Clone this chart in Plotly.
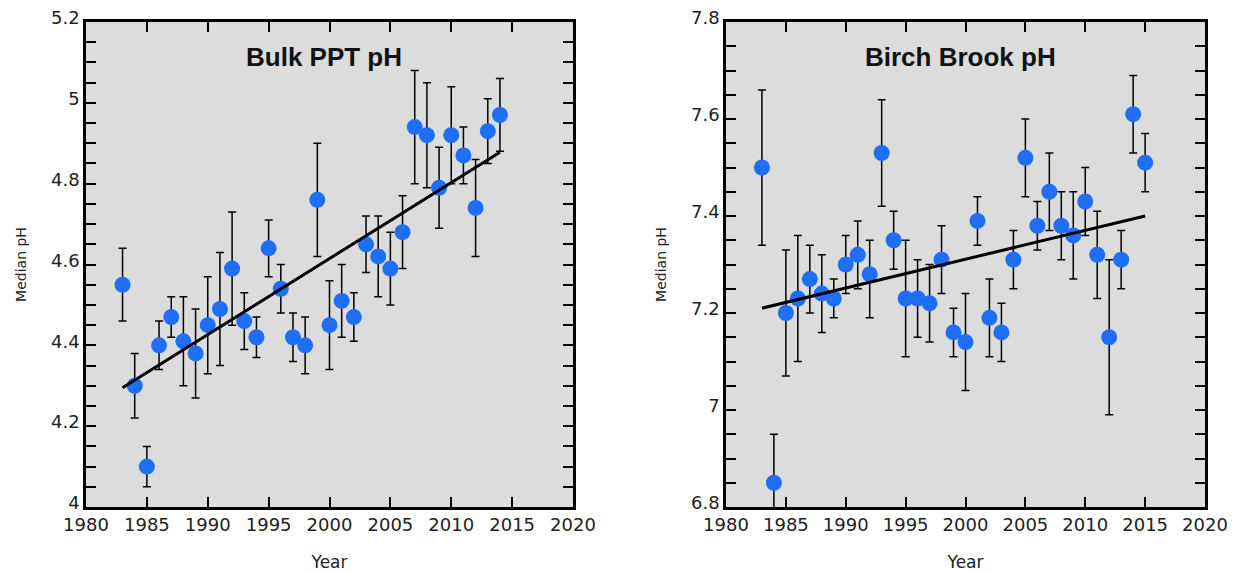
import numpy as np
import plotly.graph_objects as go

# ---- Data: Bulk PPT pH ----
ppt_years = list(range(1983, 2015))
ppt_ph = [4.55, 4.30, 4.10, 4.40, 4.47, 4.41, 4.38, 4.45, 4.49, 4.59,
          4.46, 4.42, 4.64, 4.54, 4.42, 4.40, 4.76, 4.45, 4.51, 4.47,
          4.65, 4.62, 4.59, 4.68, 4.94, 4.92, 4.79, 4.92, 4.87, 4.74,
          4.93, 4.97]
ppt_hi = [4.64, 4.38, 4.15, 4.46, 4.52, 4.52, 4.49, 4.57, 4.63, 4.73,
          4.53, 4.47, 4.71, 4.60, 4.48, 4.47, 4.90, 4.56, 4.60, 4.53,
          4.72, 4.72, 4.68, 4.77, 5.08, 5.05, 4.89, 5.04, 4.94, 4.86,
          5.01, 5.06]
ppt_lo = [4.46, 4.22, 4.05, 4.34, 4.42, 4.30, 4.27, 4.33, 4.35, 4.45,
          4.39, 4.37, 4.57, 4.48, 4.36, 4.33, 4.62, 4.34, 4.42, 4.41,
          4.58, 4.52, 4.50, 4.59, 4.80, 4.79, 4.69, 4.80, 4.80, 4.62,
          4.85, 4.88]
ppt_trend_x = [1983, 2014]
ppt_trend_y = [4.295, 4.878]

# ---- Data: Birch Brook pH ----
bb_years = list(range(1983, 2016))
bb_ph = [7.50, 6.85, 7.20, 7.23, 7.27, 7.24, 7.23, 7.30, 7.32, 7.28,
         7.53, 7.35, 7.23, 7.23, 7.22, 7.31, 7.16, 7.14, 7.39, 7.19,
         7.16, 7.31, 7.52, 7.38, 7.45, 7.38, 7.36, 7.43, 7.32, 7.15,
         7.31, 7.61, 7.51]
bb_hi = [7.66, 6.95, 7.33, 7.36, 7.34, 7.32, 7.27, 7.36, 7.39, 7.35,
         7.64, 7.41, 7.35, 7.31, 7.30, 7.38, 7.21, 7.24, 7.44, 7.27,
         7.22, 7.37, 7.60, 7.43, 7.53, 7.45, 7.45, 7.50, 7.41, 7.31,
         7.37, 7.69, 7.57]
bb_lo = [7.34, 6.78, 7.07, 7.10, 7.20, 7.16, 7.19, 7.24, 7.25, 7.19,
         7.42, 7.29, 7.11, 7.15, 7.14, 7.24, 7.11, 7.04, 7.34, 7.11,
         7.10, 7.25, 7.44, 7.33, 7.37, 7.31, 7.27, 7.36, 7.23, 6.99,
         7.25, 7.53, 7.45]
bb_trend_x = [1983, 2015]
bb_trend_y = [7.21, 7.40]

x_ticks = [1980, 1985, 1990, 1995, 2000, 2005, 2010, 2015, 2020]

BLUE = "rgb(30,110,246)"
BG = "rgb(220,220,220)"
FONT = "DejaVu Sans"

fig = go.Figure()


def add_panel(years, ph, hi, lo, tx, ty, xa, ya):
    fig.add_trace(go.Scatter(
        x=years, y=ph, mode="markers", xaxis=xa, yaxis=ya,
        marker=dict(size=16, color=BLUE, line=dict(width=0)),
        error_y=dict(type="data", symmetric=False,
                     array=[h - p for h, p in zip(hi, ph)],
                     arrayminus=[p - l for p, l in zip(ph, lo)],
                     color="black", thickness=1.5, width=4),
        showlegend=False))
    fig.add_trace(go.Scatter(
        x=tx, y=ty, mode="lines", xaxis=xa, yaxis=ya,
        line=dict(color="black", width=3), showlegend=False))


add_panel(ppt_years, ppt_ph, ppt_hi, ppt_lo, ppt_trend_x, ppt_trend_y, "x", "y")
add_panel(bb_years, bb_ph, bb_hi, bb_lo, bb_trend_x, bb_trend_y, "x2", "y2")


def yticks(lo, hi):
    n = int(round((hi - lo) / 0.05))
    vals = [round(lo + i * 0.05, 2) for i in range(n + 1)]
    txt = []
    for v in vals:
        if abs(round(v * 5) - v * 5) < 1e-6:
            s = f"{v:.1f}"
            if s.endswith(".0"):
                s = s[:-2]
            txt.append(s)
        else:
            txt.append("")
    return vals, txt


W, H = 1243, 573
common_x = dict(
    range=[1980, 2020], tickvals=x_ticks, ticktext=[str(v) for v in x_ticks],
    showline=True, linecolor="black", linewidth=2.5, mirror="ticks",
    ticks="inside", ticklen=10, tickwidth=1.5, tickcolor="black",
    showgrid=False, zeroline=False, automargin=False,
    tickfont=dict(family=FONT, size=18, color="#222"),
    title=dict(text="Year", font=dict(family=FONT, size=17, color="#222"), standoff=22),
)
common_y = dict(
    showline=True, linecolor="black", linewidth=2.5, mirror="ticks",
    ticks="inside", ticklen=10, tickwidth=1.5, tickcolor="black",
    showgrid=False, zeroline=False, automargin=False, ticklabelshift=-4,
    tickfont=dict(family=FONT, size=18, color="#222"),
    title=dict(text="Median pH", font=dict(family=FONT, size=14, color="#222"), standoff=22),
)

v1, t1 = yticks(4.0, 5.2)
v2, t2 = yticks(6.8, 7.8)

y_dom = [1 - 507 / H, 1 - 22 / H]
fig.update_layout(
    width=W, height=H,
    margin=dict(l=0, r=0, t=0, b=0, autoexpand=False),
    paper_bgcolor="white", plot_bgcolor=BG,
    xaxis=dict(common_x, domain=[86 / W, 573 / W], anchor="y"),
    yaxis=dict(common_y, domain=y_dom, anchor="x", range=[4.0, 5.2001],
               tickvals=v1, ticktext=t1),
    xaxis2=dict(common_x, domain=[726 / W, 1205 / W], anchor="y2"),
    yaxis2=dict(common_y, domain=y_dom, anchor="x2", range=[6.8, 7.8001],
                tickvals=v2, ticktext=t2),
    annotations=[
        dict(text="<b>Bulk PPT pH</b>", xref="paper", yref="paper",
             x=324 / W, y=1 - 57 / H, showarrow=False,
             font=dict(family="Liberation Sans", size=26, color="#111"),
             xanchor="center", yanchor="middle"),
        dict(text="<b>Birch Brook pH</b>", xref="paper", yref="paper",
             x=960 / W, y=1 - 57 / H, showarrow=False,
             font=dict(family="Liberation Sans", size=26, color="#111"),
             xanchor="center", yanchor="middle"),
    ],
)

fig.write_html("out.html")
